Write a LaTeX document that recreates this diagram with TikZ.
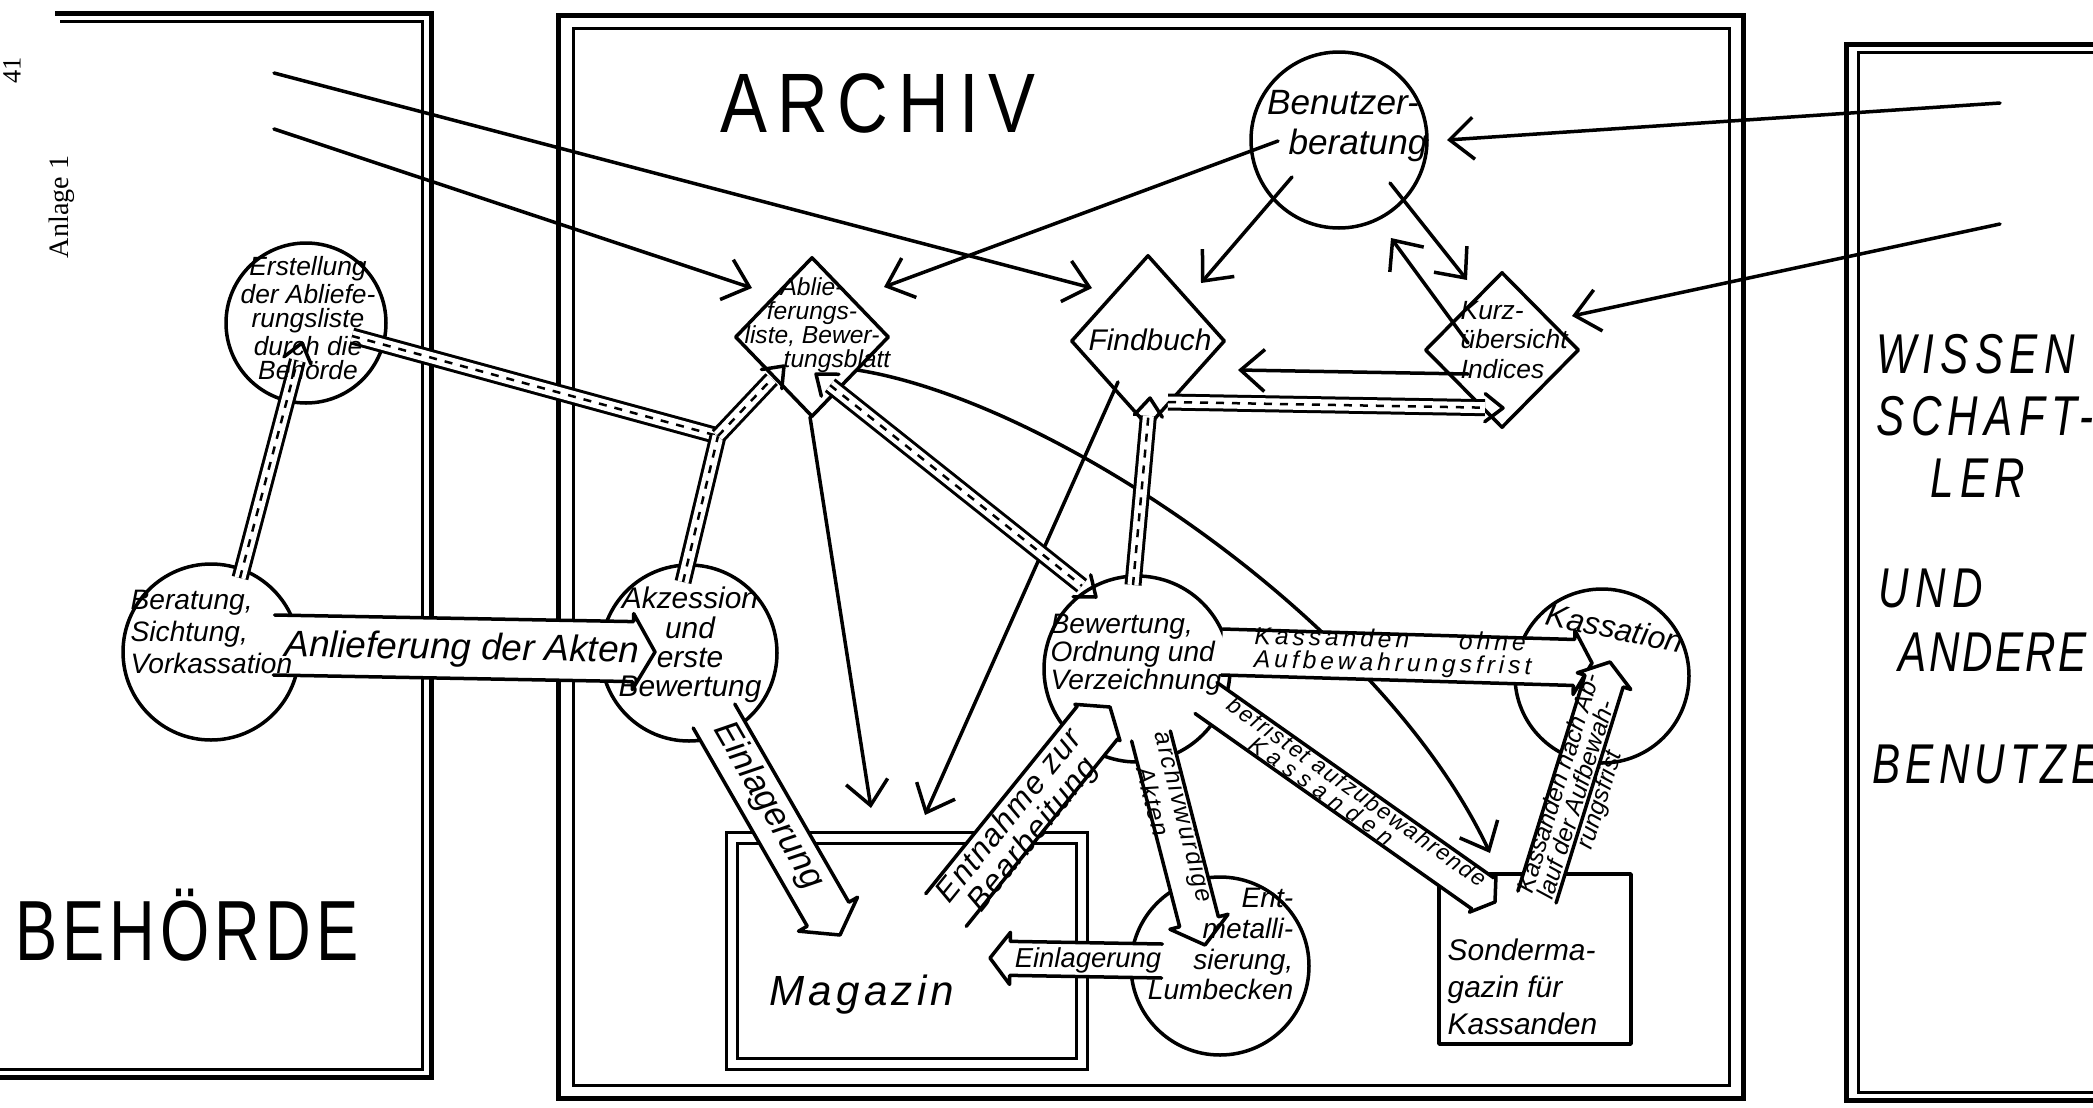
\documentclass[tikz,border=0pt]{standalone}
\usepackage{fontspec}
\setmainfont{Liberation Sans}
\newfontfamily\printfont{Liberation Serif}
\usetikzlibrary{calc,arrows.meta,shapes.geometric}
\newcommand\hsz[2]{\fontsize{#1}{#2}\selectfont}
\newcommand\lsp[1]{\addfontfeatures{LetterSpace=#1}}

\tikzset{
  ln/.style={line width=0.35mm, line cap=round, line join=round},
  framebold/.style={line width=0.5mm},
  framethin/.style={line width=0.3mm},
  circ/.style={ln, draw, circle, inner sep=0pt},
  dia/.style={ln, draw, diamond, inner sep=0pt},
  thinarrow/.style={ln, -{Straight Barb[length=2.4mm,width=4.2mm]}},
  hand/.style 2 args={font=\itshape\hsz{#1}{#2}, inner sep=0pt, text=black},
  handls/.style n args={3}{font=\itshape\hsz{#1}{#2}\lsp{#3}, inner sep=0pt, text=black},
  caps/.style={inner sep=0pt, text=black},
  hbandline/.style={line width=0.3mm, double=white, double distance=1.1mm},
  hdash/.style={line width=0.25mm, dash pattern=on 0.8mm off 0.8mm},
}

% band arrow: #1 options, #2 start, #3 tip, #4 half width, #5 head length, #6 head half width
\newcommand\bandarrow[6]{%
  \coordinate (bac) at ($(#3)!#5!(#2)$);
  \fill[white] ($(#2)!#4!90:(#3)$) -- ($(bac)!#4!-90:(#2)$) -- ($(bac)!#6!-90:(#2)$) -- (#3) -- ($(bac)!#6!90:(#2)$) -- ($(bac)!#4!90:(#2)$) -- ($(#2)!#4!-90:(#3)$) -- cycle;
  \draw[ln,#1] ($(#2)!#4!90:(#3)$) -- ($(bac)!#4!-90:(#2)$) -- ($(bac)!#6!-90:(#2)$) -- (#3) -- ($(bac)!#6!90:(#2)$) -- ($(bac)!#4!90:(#2)$) -- ($(#2)!#4!-90:(#3)$);
}
\newcommand\hatchseg[2]{\draw[hbandline] (#1) -- (#2); \draw[hdash] (#1) -- (#2);}
\newcommand\hatcharrow[2]{%
  \coordinate (hhc) at ($(#2)!1.8mm!(#1)$);
  \draw[hbandline] (#1) -- (hhc); \draw[hdash] (#1) -- (hhc);
  \draw[ln] ($(hhc)!1.4mm!90:(#2)$) -- (#2) -- ($(hhc)!1.4mm!-90:(#2)$);
}
\newcommand\hatchdouble[2]{%
  \coordinate (hda) at ($(#1)!1.8mm!(#2)$);
  \coordinate (hdb) at ($(#2)!1.8mm!(#1)$);
  \draw[hbandline] (hda) -- (hdb); \draw[hdash] (hda) -- (hdb);
  \draw[ln] ($(hda)!1.4mm!90:(#1)$) -- (#1) -- ($(hda)!1.4mm!-90:(#1)$);
  \draw[ln] ($(hdb)!1.4mm!90:(#2)$) -- (#2) -- ($(hdb)!1.4mm!-90:(#2)$);
}

\begin{document}
\begin{tikzpicture}[x=0.1mm, y=-0.1mm]
\fill[white] (0,0) rectangle (2093,1107);
\useasboundingbox (0,0) rectangle (2093,1107);

% ---------- frames ----------
\draw[framebold] (55,13) -- (431,13) -- (431,1077) -- (0,1077);
\draw[framethin] (60,21) -- (422,21) -- (422,1069) -- (0,1069);
\draw[framebold] (558,15) rectangle (1743,1098);
\draw[framethin] (573,28) rectangle (1729,1085);
\draw[framebold] (2093,44) -- (1846,44) -- (1846,1100) -- (2093,1100);
\draw[framethin] (2093,52) -- (1858,52) -- (1858,1092) -- (2093,1092);

% ---------- shapes ----------
\node[circ, minimum size=16mm] (erst) at (306,323) {};
\node[circ, minimum size=17.6mm] (berat) at (211,652) {};
\node[circ, minimum size=17.6mm] (akz) at (689,653) {};
\node[circ, minimum size=18.6mm] (bew) at (1137,669) {};
\node[circ, minimum size=17.4mm] (kass) at (1602,676) {};
\node[circ, minimum size=17.8mm] (entm) at (1220,966) {};
\node[circ, minimum size=17.6mm] (benu) at (1339,140) {};
\node[dia, minimum width=15.4mm, minimum height=16mm] (abl) at (812,337) {};
\node[dia, minimum width=15.4mm, minimum height=17.2mm] (find) at (1148,341) {};
\node[dia, minimum width=15.4mm, minimum height=15.6mm] (kurz) at (1502,350) {};
\node[draw, rectangle, line width=0.3mm, double, double distance=0.75mm, minimum width=35mm, minimum height=22.6mm] (mag) at (907,951) {};
\node[draw, rectangle, ln, minimum width=19.2mm, minimum height=17mm] (sonder) at (1535,959) {};

% ---------- thin arrows ----------
\coordinate (t1s) at (274,73);   \coordinate (t1e) at (1092,288);
\coordinate (t2s) at (274,129);  \coordinate (t2e) at (752,288);
\coordinate (t3s) at (1278,141); \coordinate (t3e) at (884,287);
\coordinate (t4s) at (1292,177); \coordinate (t4e) at (1201,283);
\coordinate (t5s) at (1390,183); \coordinate (t5e) at (1467,280);
\coordinate (t6s) at (1468,343); \coordinate (t6e) at (1391,238);
\coordinate (t7s) at (1468,374); \coordinate (t7e) at (1238,370);
\coordinate (t8s) at (1118,382); \coordinate (t8e) at (925,815);
\coordinate (t9s) at (810,417);  \coordinate (t9e) at (871,808);
\coordinate (t10s) at (857,370); \coordinate (t10e) at (1490,853);
\coordinate (t11s) at (2000,103); \coordinate (t11e) at (1447,140);
\coordinate (t12s) at (2000,224); \coordinate (t12e) at (1572,316);
\draw[thinarrow] (t1s) -- (t1e);
\draw[thinarrow] (t2s) -- (t2e);
\draw[thinarrow] (t3s) -- (t3e);
\draw[thinarrow] (t4s) -- (t4e);
\draw[thinarrow] (t5s) -- (t5e);
\draw[thinarrow] (t6s) -- (t6e);
\draw[thinarrow] (t7s) -- (t7e);
\draw[thinarrow] (t8s) -- (t8e);
\draw[thinarrow] (t9s) -- (t9e);
\draw[thinarrow] (t10s) .. controls (1050,400) and (1380,620) .. (t10e);
\draw[thinarrow] (t11s) -- (t11e);
\draw[thinarrow] (t12s) -- (t12e);

% ---------- hatched bands ----------
\coordinate (h1S) at (240,578); \coordinate (h1T) at (302,343);
\coordinate (h2S) at (352,336); \coordinate (hJ) at (718,436);
\coordinate (h3S) at (683,582); \coordinate (h4T) at (784,366);
\coordinate (h5A) at (816,374); \coordinate (h5B) at (1096,597);
\coordinate (h6S) at (1133,585); \coordinate (h6T) at (1150,398);
\coordinate (h7S) at (1168,402); \coordinate (h7T) at (1503,408);
\hatcharrow{h1S}{h1T}
\hatchseg{h2S}{hJ}
\hatchseg{h3S}{hJ}
\hatcharrow{hJ}{h4T}
\hatchdouble{h5A}{h5B}
\hatcharrow{h6S}{h6T}
\hatcharrow{h7S}{h7T}

% ---------- broad bands ----------
\coordinate (anlS) at (274,645); \coordinate (anlT) at (655,652);
\coordinate (koS) at (1222,652);  \coordinate (koT) at (1592,663);
\coordinate (e1S) at (714,716);   \coordinate (e1T) at (840,935);
\coordinate (enS) at (946,910);   \coordinate (enT) at (1110,707);
\coordinate (arS) at (1151,736);  \coordinate (arT) at (1205,945);
\coordinate (bfS) at (1206,698);  \coordinate (bfT) at (1495,902);
\coordinate (knS) at (1537,897);  \coordinate (knT) at (1610,662);
\coordinate (e2S) at (1162,961);  \coordinate (e2T) at (990,958);
\bandarrow{}{anlS}{anlT}{3mm}{2.2mm}{3.8mm}
\bandarrow{}{koS}{koT}{2.3mm}{1.8mm}{3.2mm}
\bandarrow{}{e1S}{e1T}{2.4mm}{2.4mm}{3.4mm}
\bandarrow{}{enS}{enT}{2.6mm}{2mm}{2.9mm}
\bandarrow{}{arS}{arT}{2mm}{2.4mm}{3mm}
\bandarrow{}{bfS}{bfT}{1.9mm}{1.5mm}{2.3mm}
\bandarrow{}{knS}{knT}{2mm}{2mm}{2.8mm}
\bandarrow{}{e2S}{e2T}{1.7mm}{2mm}{2.6mm}

% ---------- band texts ----------
\node[hand={10.5}{12}, rotate=-1] (anlTx) at (462,650) {Anlieferung der Akten};
\node[handls={7}{6.6}{16}, rotate=-1.5, align=left] (koTx) at (1393,653) {Kassanden\hspace{5mm}ohne\\Aufbewahrungsfrist};
\node[hand={10}{12}, rotate=-60.1] (e1Tx) at (768,806) {Einlagerung};
\node[handls={9}{8.5}{5}, rotate=51.1, align=center] (enTx) at (1022,826) {Entnahme zur\\Bearbeitung};
\node[handls={7}{6}{8}, rotate=-75.5, align=left] (arTx) at (1172,820) {archivwürdige\\\hspace*{3mm}Akten};
\node[handls={6.5}{5.6}{8}, rotate=-35.2, align=left] (bfTx) at (1352,800) {befristet aufzubewahrende\\\hspace*{4mm}{\lsp{31}Kassanden}};
\node[hand={7}{6.2}, rotate=72.6, align=left] (knTx) at (1581,790) {Kassanden nach Ab-\\lauf der Aufbewah-\\\hspace*{6mm}rungsfrist};
\node[hand={7.8}{9}] (e2Tx) at (1088,960) {Einlagerung};

% ---------- node texts ----------
\node[hand={7.5}{6.7}, align=center] (erstT) at (308,318) {Erstellung\\der Abliefe-\\rungsliste\\durch die\\Behörde};
\node[hand={8}{9.2}, align=left, anchor=west] (beratT) at (130,632) {Beratung,\\Sichtung,\\Vorkassation};
\node[hand={8.5}{8.3}, align=center] (akzT) at (690,645) {Akzession\\und\\erste\\Bewertung};
\node[hand={8}{7.9}, align=left, anchor=west] (bewT) at (1050,655) {Bewertung,\\Ordnung und\\Verzeichnung};
\node[hand={9}{10}, rotate=-12] (kassT) at (1615,628) {Kassation};
\node[hand={8}{8.8}, align=right, anchor=east] (entmT) at (1294,944) {Ent-\\metalli-\\sierung,\\Lumbecken};
\node[hand={10}{11.5}, align=center] (benuT) at (1343,126) {Benutzer-\\\hspace*{3mm}beratung};
\node[hand={7}{6.8}, align=center] (ablT) at (812,325) {Ablie-\\ferungs-\\liste, Bewer-\\\hspace*{5mm}tungsblatt};
\node[hand={8.5}{10}] (findT) at (1150,340) {Findbuch};
\node[hand={7.5}{8.5}, align=left, anchor=west] (kurzT) at (1460,340) {Kurz-\\übersicht\\Indices};
\node[hand={8.5}{10.5}, align=left, anchor=west] (sonderT) at (1447,987) {Sonderma-\\gazin für\\Kassanden};
\node[handls={12}{14}{10}] (magT) at (862,995) {Magazin};

% ---------- captions ----------
\node[caps] (archivT) at (878,103) {\scalebox{1}[1.2]{\hsz{20}{24}\lsp{14}ARCHIV}};
\node[caps] (behT) at (187,925) {\scalebox{1}[1.35]{\hsz{18}{22}\lsp{8}BEHÖRDE}};
\node[caps, anchor=west] (r1) at (1876,354) {\scalebox{1}[1.33]{\itshape\hsz{12}{14}\lsp{15}WISSEN}};
\node[caps, anchor=west] (r2) at (1876,416) {\scalebox{1}[1.33]{\itshape\hsz{12}{14}\lsp{15}SCHAFT-}};
\node[caps, anchor=west] (r3) at (1930,478) {\scalebox{1}[1.33]{\itshape\hsz{12}{14}\lsp{15}LER}};
\node[caps, anchor=west] (r4) at (1878,588) {\scalebox{1}[1.33]{\itshape\hsz{12}{14}\lsp{15}UND}};
\node[caps, anchor=west] (r5) at (1898,652) {\scalebox{1}[1.33]{\itshape\hsz{12}{14}\lsp{6}ANDERE}};
\node[caps, anchor=west] (r6) at (1872,764) {\scalebox{1}[1.33]{\itshape\hsz{12}{14}\lsp{12}BENUTZE}};
\node[caps, font=\printfont, rotate=90] (pgno) at (12,70) {\hsz{7.5}{9}41};
\node[caps, font=\printfont, rotate=90] (anlage) at (62,207) {\hsz{8}{9}Anlage 1};
\end{tikzpicture}
\end{document}
